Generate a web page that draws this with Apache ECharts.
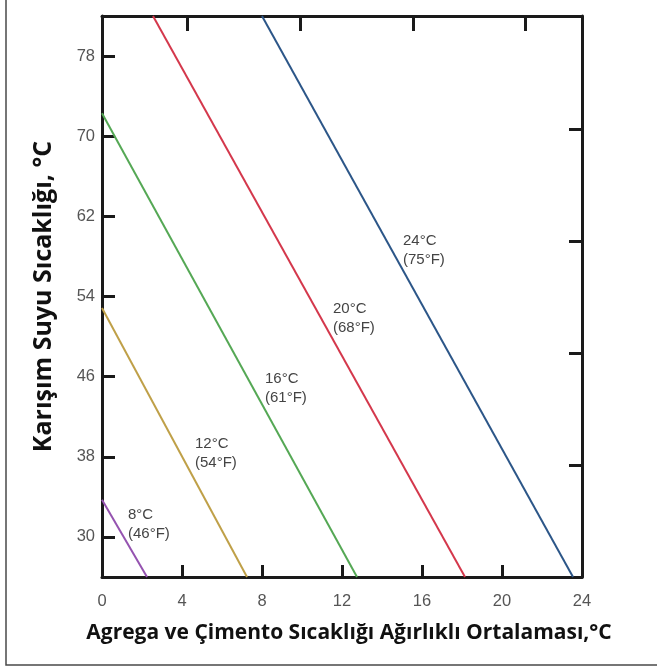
<!DOCTYPE html>
<html>
<head>
<meta charset="utf-8">
<script src="https://cdn.jsdelivr.net/npm/echarts@6/dist/echarts.min.js"></script>
<style>
html,body{margin:0;padding:0;background:#fff;}
#c{width:657px;height:669px;}
</style>
</head>
<body>
<div id="c"></div>
<script>
// ---- data ----
const xTicksC = [0, 4, 8, 12, 16, 20, 24];
const yTicksC = [30, 38, 46, 54, 62, 70, 78];
const topTicksF = [40, 50, 60, 70];
const rightTicksF = [100, 120, 140, 160];

const line8  = [[0, 33.7], [2.25, 26]];
const line12 = [[0, 52.85], [7.25, 26]];
const line16 = [[0, 72.3], [12.75, 26]];
const line20 = [[2.55, 82], [18.15, 26]];
const line24 = [[8.0, 82], [23.55, 26]];

const labels8  = ['8°C', '(46°F)'];
const labels12 = ['12°C', '(54°F)'];
const labels16 = ['16°C', '(61°F)'];
const labels20 = ['20°C', '(68°F)'];
const labels24 = ['24°C', '(75°F)'];

const labelAt8  = [1.3, 31.3];
const labelAt12 = [4.65, 38.3];
const labelAt16 = [8.15, 44.8];
const labelAt20 = [11.55, 51.8];
const labelAt24 = [15.05, 58.6];

const xMin = 0, xMax = 24, yMin = 26, yMax = 82;
const topMinF = 32.4, topMaxF = 75.0;
const rightMinF = 80, rightMaxF = 180.2;
const xTitle = 'Agrega ve Çimento Sıcaklığı Ağırlıklı Ortalaması,°C';
const yTitle = 'Karışım Suyu Sıcaklığı, °C';

// ---- chart ----
const colors = ['#9553b0', '#bfa048', '#55a855', '#d4384c', '#2c5688'];
const lines = [line8, line12, line16, line20, line24];
const labs = [labels8, labels12, labels16, labels20, labels24];
const labAt = [labelAt8, labelAt12, labelAt16, labelAt20, labelAt24];

const axisLineStyle = { color: '#1a1a1a', width: 3 };
const tickFont = '"Liberation Sans", Arial, sans-serif';
const titleFont = '"Open Sans", "Noto Sans", sans-serif';

const chart = echarts.init(document.getElementById('c'), null, { renderer: 'canvas' });
chart.setOption({
  animation: false,
  backgroundColor: '#fff',
  grid: { left: 102, right: 75, top: 16, bottom: 92, containLabel: false },
  xAxis: [
    {
      type: 'value', position: 'bottom', min: xMin, max: xMax,
      axisLine: { show: true, lineStyle: axisLineStyle },
      axisTick: { show: true, inside: true, length: 12, lineStyle: { color: '#1a1a1a', width: 3 }, customValues: xTicksC.slice(1, -1) },
      axisLabel: { show: true, customValues: xTicksC, margin: 16, color: '#555', fontSize: 16.5, fontFamily: tickFont },
      splitLine: { show: false },
      name: xTitle, nameLocation: 'middle', nameGap: 46,
      nameTextStyle: { fontSize: 21, fontWeight: 'bold', color: '#111', fontFamily: titleFont, padding: [0, 0, 0, 14] }
    },
    {
      type: 'value', position: 'top', min: topMinF, max: topMaxF,
      axisLine: { show: true, lineStyle: axisLineStyle },
      axisTick: { show: true, inside: true, length: 15, lineStyle: { color: '#1a1a1a', width: 3 }, customValues: topTicksF },
      axisLabel: { show: false },
      splitLine: { show: false }
    }
  ],
  yAxis: [
    {
      type: 'value', position: 'left', min: yMin, max: yMax,
      axisLine: { show: true, lineStyle: axisLineStyle },
      axisTick: { show: true, inside: true, length: 13, lineStyle: { color: '#1a1a1a', width: 3 }, customValues: yTicksC },
      axisLabel: { show: true, customValues: yTicksC, margin: 7, color: '#555', fontSize: 16.5, fontFamily: tickFont },
      splitLine: { show: false },
      name: yTitle, nameLocation: 'middle', nameGap: 46,
      nameTextStyle: { fontSize: 25, fontWeight: 'bold', color: '#111', fontFamily: titleFont }
    },
    {
      type: 'value', position: 'right', min: rightMinF, max: rightMaxF,
      axisLine: { show: true, lineStyle: axisLineStyle },
      axisTick: { show: true, inside: true, length: 13, lineStyle: { color: '#1a1a1a', width: 3 }, customValues: rightTicksF },
      axisLabel: { show: false },
      splitLine: { show: false }
    }
  ],
  graphic: [
    {
      type: 'rect', silent: true, z: -1,
      shape: { x: 6, y: -20, width: 700, height: 685 },
      style: { fill: 'none', stroke: '#4a4a4a', lineWidth: 1.5 }
    }
  ],
  series: lines.map((d, i) => ({
    type: 'line',
    xAxisIndex: 0, yAxisIndex: 0,
    data: d,
    showSymbol: false, symbol: 'none',
    lineStyle: { color: colors[i], width: 2 },
    clip: true,
    markPoint: {
      symbol: 'circle', symbolSize: 0,
      data: [{ coord: labAt[i], value: labs[i].join('\n') }],
      label: {
        show: true, position: 'right', distance: 0,
        formatter: labs[i].join('\n'),
        color: '#444', fontSize: 15, lineHeight: 19,
        fontFamily: tickFont, align: 'left'
      }
    }
  }))
});
</script>
</body>
</html>
